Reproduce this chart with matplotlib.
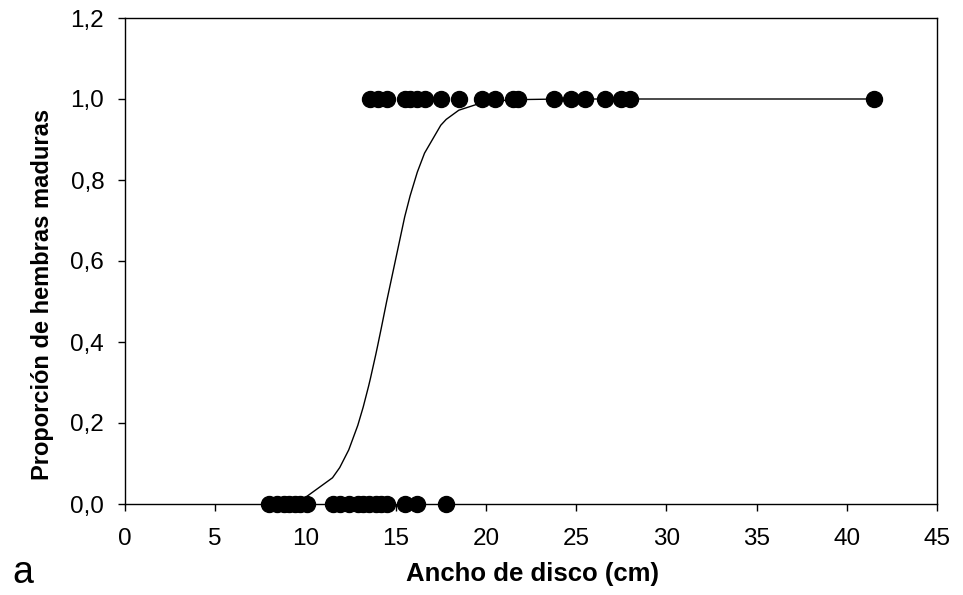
import numpy as np
import matplotlib
matplotlib.use("Agg")
import matplotlib.pyplot as plt

plt.rcParams['font.family'] = ['Liberation Sans', 'DejaVu Sans']

# Data
x_immature = [8.0, 8.4, 8.8, 9.1, 9.4, 9.7, 10.1, 11.5, 11.9, 12.4, 12.9, 13.2,
              13.5, 13.9, 14.2, 14.5, 15.5, 16.2, 17.8]
x_mature = [13.6, 14.0, 14.5, 15.5, 15.8, 16.2, 16.6, 17.5, 18.5, 19.8, 20.5,
            21.5, 21.8, 23.8, 24.7, 25.5, 26.6, 27.5, 28.0, 41.5]
x50 = 14.5
slope = 0.89

xticks = [0, 5, 10, 15, 20, 25, 30, 35, 40, 45]
yticks = [0.0, 0.2, 0.4, 0.6, 0.8, 1.0, 1.2]
ytick_labels = ['0,0', '0,2', '0,4', '0,6', '0,8', '1,0', '1,2']

fig = plt.figure(figsize=(9.63, 5.95), dpi=100)
ax = fig.add_axes([125/963, 1-504/595, (937-125)/963, (504-18)/595])

xc = np.array(sorted(set([v for v in x_immature + x_mature if v >= 10.0])))
yc = 1/(1+np.exp(-slope*(xc-x50)))
ax.plot(xc, yc, color='black', lw=1.0, zorder=2)

ax.plot(x_immature, np.zeros(len(x_immature)), 'o', color='black', ms=11.5, clip_on=False, zorder=3)
ax.plot(x_mature, np.ones(len(x_mature)), 'o', color='black', ms=11.5, clip_on=False, zorder=3)

ax.set_xlim(0, 45)
ax.set_ylim(0, 1.2)
ax.set_xticks(xticks)
ax.set_xticklabels([str(t) for t in xticks])
ax.set_yticks(yticks)
ax.set_yticklabels(ytick_labels)
ax.tick_params(direction='out', length=5, width=1, labelsize=17.5)
ax.tick_params(axis='x', pad=12)
ax.tick_params(axis='y', pad=10)
for s in ax.spines.values():
    s.set_linewidth(1)

fig.text(43/963, 1-294/595, 'Proporción de hembras maduras', fontsize=17,
         fontweight='bold', rotation=90, ha='center', va='center')
fig.text(533/963, 1-574/595, 'Ancho de disco (cm)', fontsize=18.5,
         fontweight='bold', ha='center', va='center')
fig.text(12/963, 1-573/595, 'a', fontsize=27, ha='left', va='center')

fig.savefig('out.png', dpi=100)
